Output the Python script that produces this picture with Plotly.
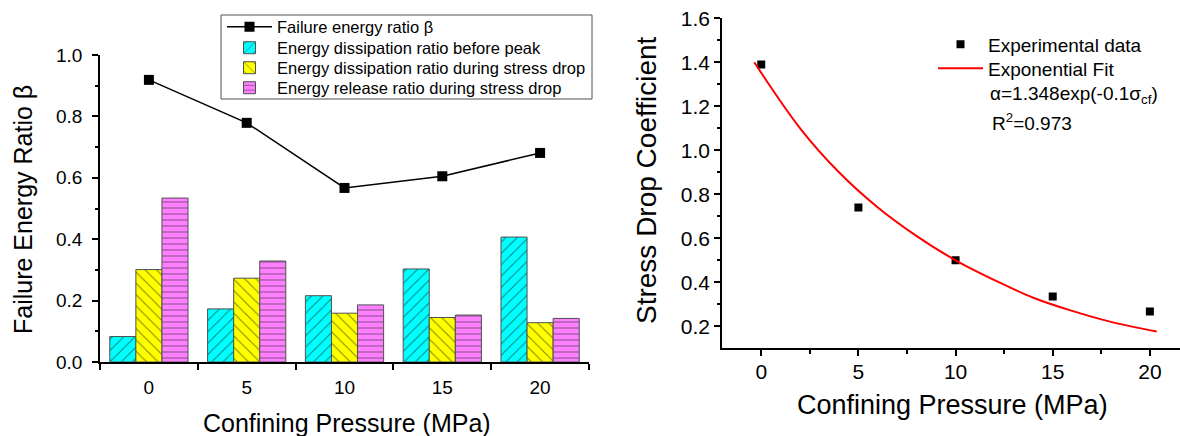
import plotly.graph_objects as go

W, H = 1180, 436
FONT = "Liberation Sans, Arial, sans-serif"


def px(x):
    return x / W


def py(y):
    return 1 - y / H


# ---------------- data (left panel) ----------------
pressure = [0, 5, 10, 15, 20]
pressure_labels = ["0", "5", "10", "15", "20"]
beta = [0.919, 0.779, 0.567, 0.605, 0.681]
diss_before_peak = [0.083, 0.173, 0.216, 0.303, 0.407]
diss_stress_drop = [0.301, 0.273, 0.159, 0.145, 0.128]
release_stress_drop = [0.534, 0.329, 0.186, 0.153, 0.142]

# ---------------- data (right panel) ----------------
exp_pressure = [0, 5, 10, 15, 20]
stress_drop_coef = [1.39, 0.74, 0.50, 0.335, 0.267]
fit_pressure = [-0.36, 2, 4, 6, 8, 10, 12, 14, 16, 18, 20.35]
fit_coef = [1.40, 1.10, 0.90, 0.74, 0.61, 0.50, 0.41, 0.33, 0.27, 0.22, 0.176]

fig = go.Figure()

fig.add_trace(go.Scatter(
    x=pressure, y=beta, name="Failure energy ratio β", mode="lines+markers",
    line=dict(color="black", width=1.5),
    marker=dict(symbol="square", size=10, color="black"),
    xaxis="x", yaxis="y", legend="legend"))

bar_line = dict(color="#505050", width=1)
fig.add_trace(go.Bar(
    x=pressure, y=diss_before_peak, name="Energy dissipation ratio before peak",
    marker=dict(color="#00FFFF", line=bar_line,
                pattern=dict(shape="/", fgcolor="black", size=8, solidity=0.12)),
    xaxis="x", yaxis="y", legend="legend3"))
fig.add_trace(go.Bar(
    x=pressure, y=diss_stress_drop, name="Energy dissipation ratio during stress drop",
    marker=dict(color="#FFFF00", line=bar_line,
                pattern=dict(shape="\\", fgcolor="black", size=8, solidity=0.12)),
    xaxis="x", yaxis="y", legend="legend4"))
fig.add_trace(go.Bar(
    x=pressure, y=release_stress_drop, name="Energy release ratio during stress drop",
    marker=dict(color="#FF80FF", line=bar_line,
                pattern=dict(shape="-", fgcolor="#202020", size=6, solidity=0.18)),
    xaxis="x", yaxis="y", legend="legend5"))

fig.add_trace(go.Scatter(
    x=exp_pressure, y=stress_drop_coef, name="Experimental data", mode="markers",
    marker=dict(symbol="square", size=8, color="black"),
    xaxis="x2", yaxis="y2", legend="legend2"))
fig.add_trace(go.Scatter(
    x=fit_pressure, y=fit_coef, name="Exponential Fit", mode="lines",
    line=dict(color="#FF0000", width=2, shape="spline"),
    xaxis="x2", yaxis="y2", legend="legend6"))

axis_common = dict(showline=True, linecolor="black", linewidth=1.5, showgrid=False,
                   zeroline=False, ticks="outside", tickcolor="black", tickwidth=1.5,
                   automargin=False, mirror=False)


def leg(x, yc, size):
    return dict(x=px(x), y=py(yc), xanchor="left", yanchor="middle",
                bgcolor="rgba(0,0,0,0)", borderwidth=0, itemwidth=45,
                font=dict(size=size), tracegroupgap=0)


fig.update_layout(
    width=W, height=H, margin=dict(l=0, r=0, t=0, b=0),
    paper_bgcolor="white", plot_bgcolor="white",
    font=dict(family=FONT, color="black"),
    barmode="group", bargap=0.2, bargroupgap=0,
    showlegend=True,
    xaxis=dict(axis_common, domain=[px(100), px(589)], range=[-2.5, 22.5],
               tickvals=pressure, ticktext=pressure_labels, ticklen=0,
               tickfont=dict(size=19), ticklabelstandoff=7, anchor="y",
               minor=dict(tickvals=[-2.5, 2.5, 7.5, 12.5, 17.5, 22.5], ticks="outside",
                          ticklen=6, tickcolor="black", tickwidth=1.5, showgrid=False)),
    yaxis=dict(axis_common, domain=[py(362), py(55)], range=[0, 1.0],
               tickvals=[0, 0.2, 0.4, 0.6, 0.8, 1.0], tickformat=".1f", ticklen=6,
               tickfont=dict(size=19), ticklabelstandoff=6, anchor="x",
               minor=dict(tickvals=[0.1, 0.3, 0.5, 0.7, 0.9], ticks="outside",
                          ticklen=3, tickcolor="black", tickwidth=1.5, showgrid=False)),
    xaxis2=dict(axis_common, domain=[px(722), 1.0], range=[-2.02, 21.55],
                tickvals=[0, 5, 10, 15, 20], ticklen=6, tickfont=dict(size=21),
                ticklabelstandoff=-2, anchor="y2",
                minor=dict(tickvals=[2.5, 7.5, 12.5, 17.5], ticks="outside",
                           ticklen=4, tickcolor="black", tickwidth=1.5, showgrid=False)),
    yaxis2=dict(axis_common, domain=[py(348.3), py(18.3)], range=[0.1, 1.6],
                tickvals=[0.2, 0.4, 0.6, 0.8, 1.0, 1.2, 1.4, 1.6], tickformat=".1f",
                ticklen=6, tickfont=dict(size=21), anchor="x2",
                minor=dict(tickvals=[0.3, 0.5, 0.7, 0.9, 1.1, 1.3, 1.5], ticks="outside",
                           ticklen=3, tickcolor="black", tickwidth=1.5, showgrid=False)),
    legend=leg(222, 27, 16.5),
    legend3=leg(222, 48, 16.5),
    legend4=leg(222, 68, 16.5),
    legend5=leg(222, 88, 16.5),
    legend2=leg(933, 44.3, 19),
    legend6=leg(933, 68.3, 19),
)

fig.add_shape(type="rect", xref="paper", yref="paper", layer="below",
              x0=px(221), x1=px(592), y0=py(99), y1=py(15),
              line=dict(color="#505050", width=1), fillcolor="white")

annotations = [
    dict(text="Confining Pressure (MPa)", x=px(346.5), y=py(423), font=dict(size=25)),
    dict(text="Failure Energy Ratio β", x=px(23), y=py(210), textangle=-90, font=dict(size=25)),
    dict(text="Confining Pressure (MPa)", x=px(952.5), y=py(405), font=dict(size=27)),
    dict(text="Stress Drop Coefficient", x=px(646), y=py(180), textangle=-90, font=dict(size=28)),
    dict(text="α=1.348exp(-0.1σ<sub>cf</sub>)", x=px(988), y=py(95), xanchor="left",
         font=dict(size=19)),
    dict(text="R<sup>2</sup>=0.973", x=px(990), y=py(122), xanchor="left", font=dict(size=19)),
]
for a in annotations:
    a.setdefault("xanchor", "center")
    fig.add_annotation(xref="paper", yref="paper", yanchor="middle", showarrow=False, **a)

fig.write_html("out.html")
